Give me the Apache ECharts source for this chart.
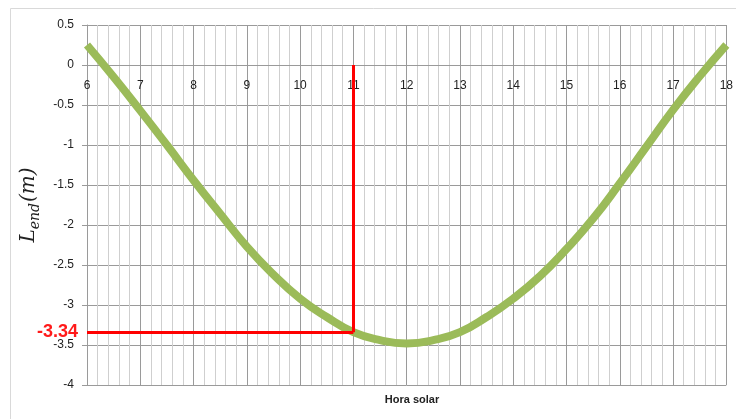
<!DOCTYPE html>
<html>
<head>
    <meta charset="utf-8">
    <title>Lend vs hora solar</title>
    <script src="https://cdn.jsdelivr.net/npm/echarts@6/dist/echarts.min.js"></script>
    <style>
        body { margin: 0; background: #fff; }
    </style>
</head>
<body>
    <div id="main" style="width: 736px;height:419px;"></div>
    <script type="text/javascript">
    var myChart = echarts.init(document.getElementById('main'));

    // hora solar (h) and L_end (m)
    var hours = [6, 6.5, 7, 7.5, 8, 8.5, 9, 9.5, 10, 10.5, 11, 11.5, 12,
                 12.5, 13, 13.5, 14, 14.5, 15, 15.5, 16, 16.5, 17, 17.5, 18];
    var lend = [0.25, -0.15, -0.57, -1.0, -1.44, -1.86, -2.27, -2.62, -2.92, -3.15, -3.34, -3.44, -3.48,
                -3.44, -3.34, -3.15, -2.92, -2.64, -2.30, -1.92, -1.48, -1.02, -0.56, -0.14, 0.25];

    // marked point
    var markHour = 11;
    var markValue = -3.34;

    var yMin = -4, yMax = 0.5;
    var gridTop = 25, gridBottom = 34, chartHeight = 419;

    var curve = [];
    for (var i = 0; i < hours.length; i++) {
        curve.push([hours[i], lend[i]]);
    }

    // x axis crosses y at 0 (as in Excel): shift it up from the bottom of the grid
    var plotHeight = chartHeight - gridTop - gridBottom;
    var zeroOffset = -plotHeight * (0 - yMin) / (yMax - yMin);

    var labelFont = 'Liberation Sans';

    option = {
        animation: false,
        title: {
            text: 'Hora solar',
            left: 407,
            textAlign: 'center',
            top: 389,
            textStyle: { color: '#222', fontFamily: labelFont, fontSize: 11, fontWeight: 'bold' }
        },
        graphic: [{
            type: 'rect',
            shape: { x: 10.5, y: 8.5, width: 760, height: 440 },
            style: { fill: 'none', stroke: '#d9d9d9', lineWidth: 1 },
            silent: true
        }],
        grid: {
            left: 87,
            right: 9,
            top: gridTop,
            bottom: gridBottom
        },
        xAxis: {
            type: 'value',
            min: 6,
            max: 18,
            interval: 1,
            position: 'bottom',
            offset: zeroOffset,
            axisLine: { show: true, onZero: false, lineStyle: { color: '#9a9a9a' } },
            axisTick: { show: false },
            axisLabel: { color: '#222', fontFamily: labelFont, fontSize: 12, margin: 15 },
            splitLine: { show: true, lineStyle: { color: '#9a9a9a' } },
            minorTick: { show: false, splitNumber: 5 },
            minorSplitLine: { show: true, lineStyle: { color: '#cfcfcf' } }
        },
        yAxis: {
            type: 'value',
            min: yMin,
            max: yMax,
            interval: 0.5,
            axisLine: { show: true, onZero: false, lineStyle: { color: '#9a9a9a' } },
            axisTick: { show: true, length: 5, lineStyle: { color: '#9a9a9a' } },
            axisLabel: { color: '#222', fontFamily: labelFont, fontSize: 12, margin: 13 },
            splitLine: { show: true, lineStyle: { color: '#9a9a9a' } },
            name: '{a|L}{b|end}{a|(m)}',
            nameLocation: 'middle',
            nameRotate: 90,
            nameGap: 45,
            nameTextStyle: {
                rich: {
                    a: { fontFamily: 'DejaVu Serif', fontStyle: 'italic', fontSize: 20, color: '#222', lineHeight: 22 },
                    b: { fontFamily: 'DejaVu Serif', fontStyle: 'italic', fontSize: 14, color: '#222', padding: [12, 1, 0, 0] }
                }
            }
        },
        series: [{
            type: 'line',
            data: curve,
            smooth: 0.5,
            showSymbol: false,
            symbol: 'none',
            lineStyle: { color: '#9bbb59', width: 8 },
            z: 3
        }, {
            type: 'line',
            data: [],
            markLine: {
                silent: true,
                symbol: 'none',
                animation: false,
                lineStyle: { color: '#ff0000', width: 3, type: 'solid' },
                data: [
                    [
                        { coord: [6, markValue], label: {
                            show: true, position: 'start', formatter: String(markValue),
                            color: '#ff1a1a', fontFamily: labelFont, fontSize: 18, fontWeight: 'bold', distance: 9
                        } },
                        { coord: [markHour, markValue] }
                    ],
                    [
                        { coord: [markHour, 0], label: { show: false } },
                        { coord: [markHour, markValue] }
                    ]
                ]
            },
            z: 2
        }]
    };

    myChart.setOption(option);
    </script>
</body>
</html>
